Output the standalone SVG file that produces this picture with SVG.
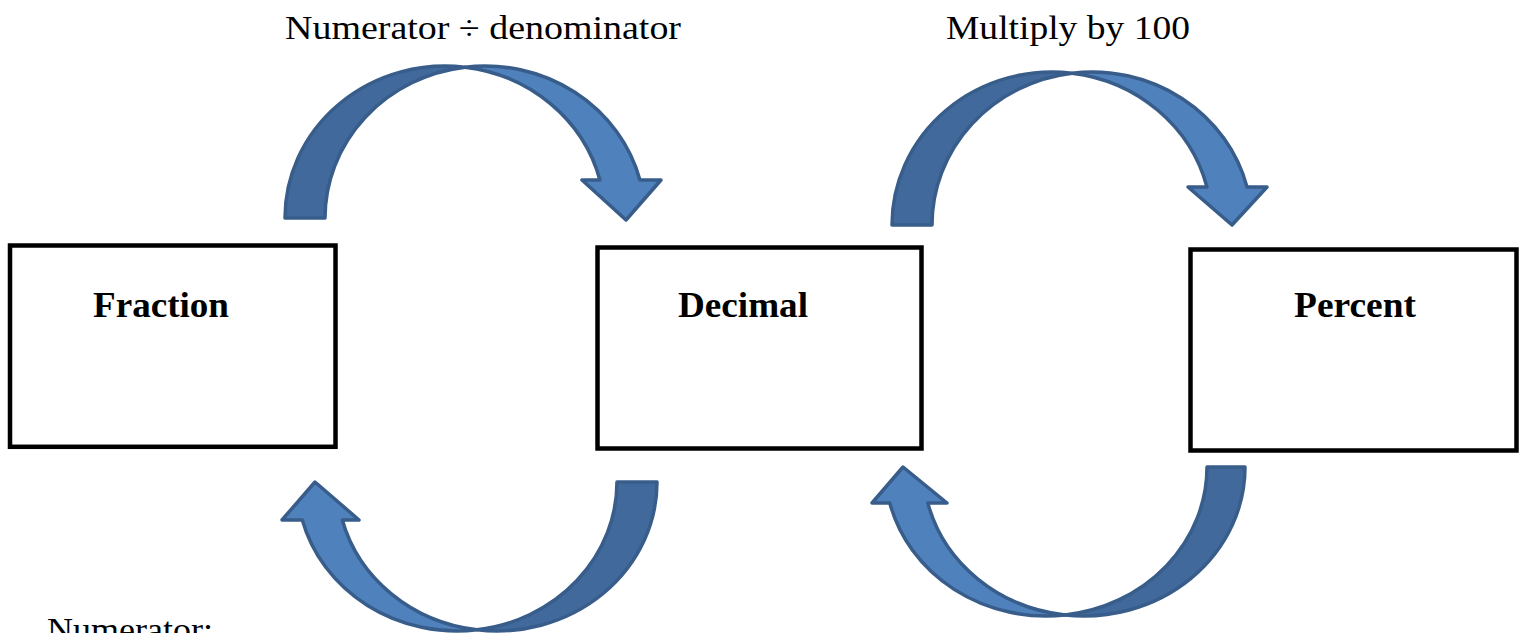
<svg xmlns="http://www.w3.org/2000/svg" width="1523" height="633" viewBox="0 0 1523 633">
  <style>
    .box { fill: #ffffff; stroke: #000000; stroke-width: 4.5; }
    .label { font-family: "Liberation Serif", "Times New Roman", serif; font-weight: bold; font-size: 36px; fill: #000000; }
    .note { font-family: "Liberation Serif", "Times New Roman", serif; font-size: 34px; fill: #000000; }
    .back { fill: #41699B; stroke: #385D8A; stroke-width: 3.5; stroke-linejoin: round; }
    .front { fill: #4F81BD; stroke: #385D8A; stroke-width: 3.5; stroke-linejoin: round; }
  </style>
  <rect width="1523" height="633" fill="#ffffff"/>

  <!-- curved block arrows between the boxes -->
  <g id="connectors">
    <g id="fraction-to-decimal">
      <path class="back" d="M285,218 A160,152 0 0 1 465,67.2 A160,152 0 0 0 325,218 Z"/>
      <path class="front" d="M465,67.2 A160,152 0 0 1 639.9,180 L661,180 L626,220 L582,180 L599.9,180 A160,152 0 0 0 465,67.2 Z"/>
      <text class="note" x="285" y="39" textLength="396" lengthAdjust="spacingAndGlyphs">Numerator ÷ denominator</text>
    </g>
    <g id="decimal-to-percent">
      <path class="back" d="M892,225 A160,153 0 0 1 1072,73.2 A160,153 0 0 0 932,225 Z"/>
      <path class="front" d="M1072,73.2 A160,153 0 0 1 1247,187 L1267,187 L1232,225 L1188,187 L1207,187 A160,153 0 0 0 1072,73.2 Z"/>
      <text class="note" x="946" y="39" textLength="244" lengthAdjust="spacingAndGlyphs">Multiply by 100</text>
    </g>
    <g id="decimal-to-fraction">
      <path class="back" d="M657,482 A160,149 0 0 1 477,629.8 A160,149 0 0 0 617,482 Z"/>
      <path class="front" d="M477,629.8 A160,149 0 0 1 302.3,520 L282,520 L315,482 L359,520 L342.3,520 A160,149 0 0 0 477,629.8 Z"/>
    </g>
    <g id="percent-to-decimal">
      <path class="back" d="M1245,467 A161,149 0 0 1 1065,615 A161,149 0 0 0 1207,467 Z"/>
      <path class="front" d="M1065,615 A161,149 0 0 1 889.8,503 L872,503 L903,467 L947,503 L927.8,503 A161,149 0 0 0 1065,615 Z"/>
    </g>
  </g>

  <g id="fraction">
    <rect class="box" x="10" y="245.5" width="325.5" height="201.3"/>
    <text class="label" x="93" y="317" textLength="136" lengthAdjust="spacingAndGlyphs">Fraction</text>
  </g>
  <g id="decimal">
    <rect class="box" x="597.5" y="247.5" width="324" height="201"/>
    <text class="label" x="678" y="317" textLength="130" lengthAdjust="spacingAndGlyphs">Decimal</text>
  </g>
  <g id="percent">
    <rect class="box" x="1190.5" y="249.5" width="326" height="201"/>
    <text class="label" x="1294" y="317" textLength="122" lengthAdjust="spacingAndGlyphs">Percent</text>
  </g>

  <!-- line of text running off the lower edge of the page -->
  <text class="note" x="47" y="641" textLength="166" lengthAdjust="spacingAndGlyphs">Numerator:</text>
</svg>
